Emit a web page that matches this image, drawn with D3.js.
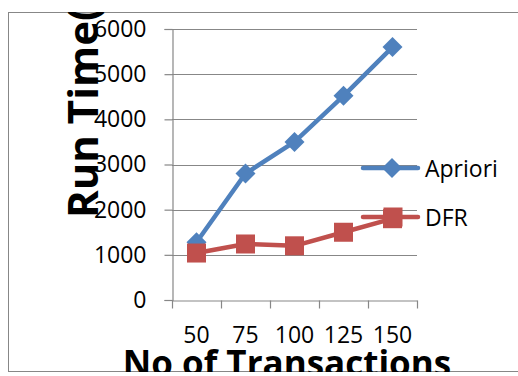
<!DOCTYPE html>
<html>
<head>
<meta charset="utf-8">
<script src="https://cdn.jsdelivr.net/npm/d3@7"></script>
<style>
html, body { margin: 0; padding: 0; background: #fff; }
svg { display: block; }
</style>
</head>
<body>
<script>
const categories = ["50", "75", "100", "125", "150"];
const aprioriValues = [1280, 2800, 3500, 4520, 5600];
const dfrValues = [1040, 1240, 1200, 1500, 1800];
const yTicks = [0, 1000, 2000, 3000, 4000, 5000, 6000];
const seriesNames = ["Apriori", "DFR"];

const W = 518, H = 376;
const plot = { left: 172, right: 417, top: 29, bottom: 300 };
const gray = "#878787";
const blue = "#4F81BD";
const red = "#C0504D";
const font = "'Open Sans', 'Liberation Sans', sans-serif";

const svg = d3.select("body").append("svg").attr("width", W).attr("height", H);

// outer chart border
svg.append("rect").attr("x", 8.5).attr("y", 12.5).attr("width", 560).attr("height", 359)
  .attr("fill", "none").attr("stroke", gray).attr("stroke-width", 1);

svg.append("clipPath").attr("id", "border").append("rect")
  .attr("x", 9).attr("y", 12).attr("width", 560).attr("height", 360);

const x = d3.scaleBand().domain(categories).range([plot.left, plot.right]);
const y = d3.scaleLinear().domain([0, 6000]).range([plot.bottom, plot.top]);

// gridlines
svg.append("g").selectAll("line").data(yTicks.filter(d => d > 0)).join("line")
  .attr("x1", plot.left).attr("x2", plot.right)
  .attr("y1", d => Math.round(y(d)) + 0.5).attr("y2", d => Math.round(y(d)) + 0.5)
  .attr("stroke", gray).attr("stroke-width", 1.2);

// y axis
const yAxis = svg.append("g").attr("transform", `translate(${plot.left + 0.5},0)`)
  .call(d3.axisLeft(y).tickValues(yTicks).tickSize(8).tickPadding(18).tickFormat(d3.format("d")));
yAxis.select(".domain").attr("stroke", gray).attr("stroke-width", 1.2);
yAxis.selectAll(".tick line").attr("stroke", gray).attr("stroke-width", 1.2);
yAxis.selectAll(".tick text").attr("font-family", font).attr("font-size", 23).attr("fill", "#000");

// x axis
const xAxis = svg.append("g").attr("transform", `translate(0,${plot.bottom + 0.5})`)
  .call(d3.axisBottom(x).tickSize(0).tickPadding(26));
xAxis.select(".domain").attr("stroke", gray).attr("stroke-width", 1.2);
xAxis.selectAll(".tick text").attr("font-family", font).attr("font-size", 23).attr("fill", "#000");
// tick marks at category boundaries
const bounds = categories.map(c => x(c)).concat([x(categories[categories.length - 1]) + x.bandwidth()]);
xAxis.append("g").selectAll("line").data(bounds).join("line")
  .attr("x1", d => Math.round(d) + 0.5).attr("x2", d => Math.round(d) + 0.5)
  .attr("y1", 0).attr("y2", 8).attr("stroke", gray).attr("stroke-width", 1.2);

// series
const cx = c => x(c) + x.bandwidth() / 2;
const lineGen = d3.line().x((d, i) => cx(categories[i])).y(d => y(d));

function diamond(g, px, py, r, color) {
  g.append("path").attr("d", `M${px},${py - r}L${px + r},${py}L${px},${py + r}L${px - r},${py}Z`)
    .attr("fill", color);
}
function square(g, px, py, s, color) {
  g.append("rect").attr("x", px - s / 2).attr("y", py - s / 2).attr("width", s).attr("height", s)
    .attr("fill", color);
}

const gA = svg.append("g");
gA.append("path").datum(aprioriValues).attr("d", lineGen)
  .attr("fill", "none").attr("stroke", blue).attr("stroke-width", 4.5).attr("stroke-linejoin", "round");
aprioriValues.forEach((v, i) => diamond(gA, cx(categories[i]), y(v), 10, blue));

const gD = svg.append("g");
gD.append("path").datum(dfrValues).attr("d", lineGen)
  .attr("fill", "none").attr("stroke", red).attr("stroke-width", 4.5).attr("stroke-linejoin", "round");
dfrValues.forEach((v, i) => square(gD, cx(categories[i]), y(v), 19, red));

// legend
const legend = svg.append("g");
const legendYs = [168, 217];
const legendColors = [blue, red];
seriesNames.forEach((name, i) => {
  const ly = legendYs[i];
  legend.append("line").attr("x1", 363).attr("x2", 418).attr("y1", ly).attr("y2", ly)
    .attr("stroke", legendColors[i]).attr("stroke-width", 4.5).attr("stroke-linecap", "round");
  if (i === 0) diamond(legend, 392, ly, 10, blue); else square(legend, 393, ly, 19, red);
  legend.append("text").attr("x", 425).attr("y", ly + 8.5).text(name)
    .attr("font-family", font).attr("font-size", 23).attr("fill", "#000");
});

// titles
const titles = svg.append("g").attr("clip-path", "url(#border)");
titles.append("text").attr("x", 287).attr("y", 376).attr("text-anchor", "middle")
  .attr("font-family", font).attr("font-weight", "bold").attr("font-size", 35).attr("fill", "#000")
  .text("No of Transactions");
titles.append("text").attr("transform", "translate(98,218) rotate(-90)")
  .attr("font-family", font).attr("font-weight", "bold").attr("font-size", 42).attr("fill", "#000")
  .text("Run Time(ms)");
</script>
</body>
</html>
